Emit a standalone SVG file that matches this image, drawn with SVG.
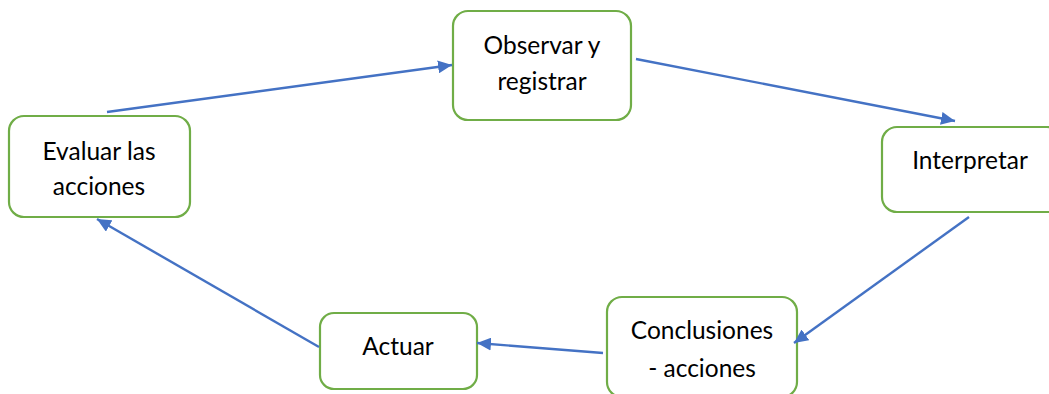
<svg xmlns="http://www.w3.org/2000/svg" width="1049" height="394" viewBox="0 0 1049 394">
<defs>
<style>
.box{fill:#fff;stroke:#70AD47;stroke-width:2.2}
.lbl{font-family:Lato,"Open Sans","Liberation Sans",sans-serif;font-size:24.5px;fill:#000;text-anchor:middle}
.con{stroke:#4472C4;stroke-width:2.4;fill:none;marker-end:url(#ah)}
</style>
<marker id="ah" markerUnits="userSpaceOnUse" markerWidth="15" markerHeight="13" refX="14" refY="6.5" orient="auto">
<path d="M0,0 L14,6.5 L0,13 z" fill="#4472C4"/>
</marker>
</defs>
<rect width="1049" height="394" fill="#fff"/>
<g id="n-observar"><rect class="box" x="453" y="11" width="178" height="109" rx="15"/><text class="lbl" x="542" y="54">Observar y</text><text class="lbl" x="542" y="90">registrar</text></g>
<g id="n-interpretar"><rect class="box" x="882" y="127" width="180" height="85" rx="15"/><text class="lbl" x="970" y="169">Interpretar</text></g>
<g id="n-conclusiones"><rect class="box" x="607" y="297" width="190" height="100" rx="15"/><text class="lbl" x="702" y="339">Conclusiones</text><text class="lbl" x="702" y="377">- acciones</text></g>
<g id="n-actuar"><rect class="box" x="320" y="313" width="157" height="76" rx="14"/><text class="lbl" x="398" y="355">Actuar</text></g>
<g id="n-evaluar"><rect class="box" x="9" y="116" width="181" height="101" rx="15"/><text class="lbl" x="99" y="160">Evaluar las</text><text class="lbl" x="99" y="195">acciones</text></g>
<g id="connectors">
<line class="con" x1="107" y1="112" x2="452" y2="65"/>
<line class="con" x1="636" y1="59" x2="955" y2="121"/>
<line class="con" x1="969" y1="217" x2="794" y2="343"/>
<line class="con" x1="603" y1="353" x2="477" y2="343"/>
<line class="con" x1="319" y1="347" x2="97" y2="219"/>
</g>
</svg>
